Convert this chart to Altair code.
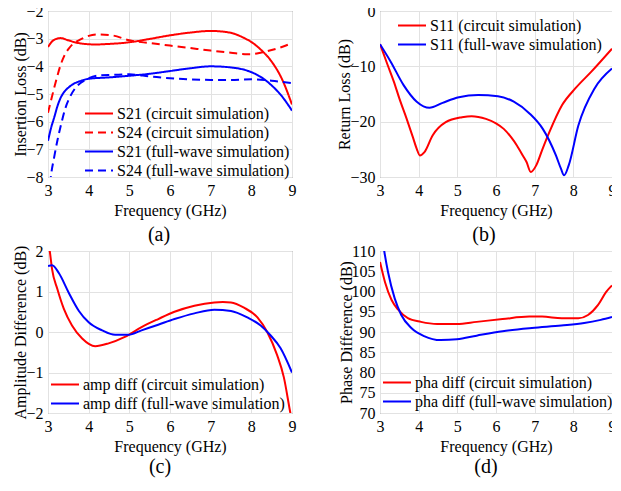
import altair as alt
import pandas as pd

FONT = "Liberation Serif"
RED = "#ff0000"
BLUE = "#0000ff"
FREQ_TICKS = [3, 4, 5, 6, 7, 8, 9]

# ---------------- Panel (a): insertion loss ----------------
a_names = ["S21 (circuit simulation)", "S24 (circuit simulation)",
           "S21 (full-wave simulation)", "S24 (full-wave simulation)"]
a_s21c_f = [3.0, 3.1, 3.2, 3.31, 3.5, 3.75, 4.0, 4.16, 4.5, 5.0, 5.5, 6.0, 6.5, 7.0, 7.5, 7.8, 8.0, 8.25, 8.5, 8.75, 9.0]
a_s21c_v = [-3.30, -3.10, -3.01, -2.98, -3.06, -3.16, -3.20, -3.21, -3.19, -3.13, -3.01, -2.88, -2.78, -2.72, -2.79, -2.96, -3.12, -3.42, -3.83, -4.45, -5.38]
a_s24c_f = [3.0, 3.08, 3.15, 3.23, 3.31, 3.4, 3.51, 3.62, 3.76, 4.0, 4.24, 4.57, 5.0, 5.5, 6.0, 6.5, 7.0, 7.5, 7.9, 8.0, 8.25, 8.5, 8.75, 9.0]
a_s24c_v = [-5.68, -5.2, -4.79, -4.35, -3.95, -3.62, -3.36, -3.18, -3.06, -2.90, -2.85, -2.88, -3.06, -3.16, -3.25, -3.34, -3.43, -3.51, -3.56, -3.56, -3.50, -3.41, -3.30, -3.16]
a_s21f_f = [3.0, 3.08, 3.15, 3.23, 3.31, 3.4, 3.51, 3.62, 3.76, 4.0, 4.5, 5.0, 5.5, 6.0, 6.5, 7.0, 7.5, 8.0, 8.25, 8.5, 8.75, 9.0]
a_s21f_v = [-6.69, -6.2, -5.86, -5.45, -5.14, -4.92, -4.76, -4.64, -4.55, -4.45, -4.40, -4.34, -4.27, -4.17, -4.07, -4.00, -4.04, -4.21, -4.40, -4.69, -5.08, -5.60]
a_s24f_f = [3.0, 3.07, 3.15, 3.23, 3.33, 3.43, 3.55, 3.67, 3.8, 3.92, 4.24, 4.6, 5.0, 5.5, 6.0, 6.5, 7.0, 7.5, 8.0, 8.5, 9.0]
a_s24f_v = [-9.2, -8.0, -7.3, -6.69, -6.05, -5.5, -5.08, -4.79, -4.6, -4.49, -4.33, -4.31, -4.29, -4.36, -4.43, -4.47, -4.49, -4.49, -4.47, -4.52, -4.61]

# ---------------- Panel (b): return loss ----------------
b_names = ["S11 (circuit simulation)", "S11 (full-wave simulation)"]
b_c_f = [3.0, 3.2, 3.36, 3.5, 3.69, 3.85, 3.95, 4.03, 4.15, 4.36, 4.7, 5.12, 5.37, 5.74, 6.0, 6.2, 6.4, 6.54, 6.7, 6.79, 6.9, 7.04, 7.2, 7.38, 7.71, 8.05, 8.46, 9.0]
b_c_v = [-6.0, -9.8, -12.8, -15.8, -19.5, -22.8, -24.9, -26.1, -25.5, -22.5, -20.1, -19.2, -19.0, -19.5, -20.3, -21.3, -22.9, -24.3, -26.2, -27.3, -29.1, -27.9, -25.0, -21.9, -17.0, -14.0, -11.0, -6.8]
b_f_f = [3.0, 3.28, 3.61, 3.95, 4.28, 4.62, 5.04, 5.54, 6.05, 6.46, 6.88, 7.21, 7.55, 7.68, 7.76, 7.88, 8.13, 8.55, 9.0]
b_f_v = [-6.0, -9.2, -13.4, -16.4, -17.5, -16.6, -15.6, -15.2, -15.4, -16.4, -18.6, -21.3, -26.1, -28.5, -29.7, -27.9, -20.7, -14.0, -10.4]

# ---------------- Panel (c): amplitude difference ----------------
c_names = ["amp diff (circuit simulation)", "amp diff (full-wave simulation)"]
c_c_f = [3.0, 3.05, 3.1, 3.23, 3.39, 3.59, 3.84, 4.16, 4.49, 4.89, 5.3, 5.71, 6.11, 6.6, 7.09, 7.3, 7.5, 7.82, 8.15, 8.39, 8.63, 8.8, 8.96, 9.0]
c_c_v = [2.3, 1.95, 1.55, 1.06, 0.57, 0.16, -0.16, -0.35, -0.28, -0.12, 0.12, 0.32, 0.50, 0.65, 0.73, 0.74, 0.73, 0.60, 0.36, 0.0, -0.56, -1.12, -2.0, -2.2]
c_f_f = [3.0, 3.1, 3.27, 3.51, 3.76, 4.0, 4.33, 4.65, 4.98, 5.3, 5.71, 6.11, 6.6, 7.09, 7.5, 7.9, 8.23, 8.47, 8.72, 9.0]
c_f_v = [1.63, 1.65, 1.45, 0.97, 0.52, 0.24, 0.04, -0.07, -0.07, 0.04, 0.18, 0.32, 0.46, 0.55, 0.52, 0.36, 0.16, -0.08, -0.40, -1.0]

# ---------------- Panel (d): phase difference ----------------
d_names = ["pha diff (circuit simulation)", "pha diff (full-wave simulation)"]
d_c_f = [3.0, 3.13, 3.3, 3.47, 3.72, 4.06, 4.48, 4.99, 5.5, 6.17, 6.86, 7.19, 7.7, 8.13, 8.38, 8.64, 8.85, 9.0]
d_c_v = [107.3, 102.3, 97.9, 95.5, 93.4, 92.5, 92.0, 92.0, 92.5, 93.2, 93.8, 93.8, 93.4, 93.4, 94.2, 96.7, 99.9, 101.5]
d_f_f = [3.0, 3.11, 3.21, 3.38, 3.55, 3.81, 4.14, 4.57, 4.99, 5.5, 6.17, 6.93, 7.69, 8.28, 8.71, 9.0]
d_f_v = [118.0, 110.0, 104.7, 98.3, 94.2, 91.0, 89.0, 88.0, 88.2, 89.1, 90.2, 91.0, 91.6, 92.2, 93.0, 93.7]


def frame(names, fs, vs):
    rows = []
    for n, f, v in zip(names, fs, vs):
        for i, (x, y) in enumerate(zip(f, v)):
            rows.append({"s": n, "f": x, "v": y, "i": i})
    return pd.DataFrame(rows)


def panel(df, names, colors, dashes, ydom, yvals, ytitle, caption, lx, ly, w, h, cdx, coff):
    leg = alt.Legend(orient="none", legendX=lx, legendY=ly, title=None,
                     symbolType="stroke", symbolSize=784, symbolStrokeWidth=2,
                     labelFont=FONT, labelFontSize=16, labelColor="black",
                     labelOffset=3, rowPadding=0, clipHeight=19, padding=0, labelLimit=0)
    enc = dict(
        x=alt.X("f:Q", scale=alt.Scale(domain=[3, 9], nice=False, zero=False),
                axis=alt.Axis(values=FREQ_TICKS, title="Frequency (GHz)")),
        y=alt.Y("v:Q", scale=alt.Scale(domain=ydom, nice=False, zero=False),
                axis=alt.Axis(values=yvals, title=ytitle)),
        color=alt.Color("s:N", scale=alt.Scale(domain=names, range=colors), legend=leg),
        order="i:Q",
    )
    if dashes is not None:
        enc["strokeDash"] = alt.StrokeDash("s:N", scale=alt.Scale(domain=names, range=dashes), legend=leg)
    return alt.Chart(df).mark_line(strokeWidth=2, clip=True, interpolate="monotone").encode(**enc).properties(
        width=w, height=h,
        title=alt.TitleParams(caption, orient="bottom", anchor="middle", frame="group",
                              dx=cdx, offset=coff, font=FONT, fontSize=20, fontWeight="normal", color="black"),
    )


pa = panel(frame(a_names, [a_s21c_f, a_s24c_f, a_s21f_f, a_s24f_f], [a_s21c_v, a_s24c_v, a_s21f_v, a_s24f_v]),
           a_names, [RED, RED, BLUE, BLUE], [[1, 0], [8, 5], [1, 0], [8, 5]],
           [-8, -2], [-8, -7, -6, -5, -4, -3, -2], "Insertion Loss (dB)", "(a)", 36, 93, 244, 166, -11, 7)
pb = panel(frame(b_names, [b_c_f, b_f_f], [b_c_v, b_f_v]), b_names, [RED, BLUE], None,
           [-30, 0], [-30, -20, -10, 0], "Return Loss (dB)", "(b)", 17, 5, 232, 166, -12, 7)
pc = panel(frame(c_names, [c_c_f, c_f_f], [c_c_v, c_f_v]), c_names, [RED, BLUE], None,
           [-2, 2], [-2, -1, 0, 1, 2], "Amplitude Difference (dB)", "(c)", 2, 124, 244, 162, -10, 3)
pd_ = panel(frame(d_names, [d_c_f, d_f_f], [d_c_v, d_f_v]), d_names, [RED, BLUE], None,
            [70, 110], [70, 75, 80, 85, 90, 95, 100, 105, 110], "Phase Difference (dB)", "(d)", 2, 122, 232, 162, -10, 3)

chart = alt.concat(pa, pb, pc, pd_, columns=2, spacing={"row": 74, "column": 88}, bounds="flush").resolve_scale(
    color="independent", strokeDash="independent", x="independent", y="independent"
).resolve_legend(color="independent", strokeDash="independent").properties(
    padding={"left": 4, "top": -6, "right": -5, "bottom": 0}
).configure_axis(
    labelFont=FONT, labelFontSize=16, labelColor="black",
    titleFont=FONT, titleFontSize=16, titleFontWeight="normal", titleColor="black",
    grid=True, gridColor="#e2e2e2", gridWidth=1, domain=False, ticks=False,
    labelFlush=False,
).configure_axisX(labelPadding=5, titlePadding=4).configure_axisY(labelPadding=5, titlePadding=-3).configure_view(
    stroke="#666666", strokeWidth=1
).configure_legend(labelLimit=0)

chart.save("out.html", embed_options={"renderer": "svg", "actions": False})
